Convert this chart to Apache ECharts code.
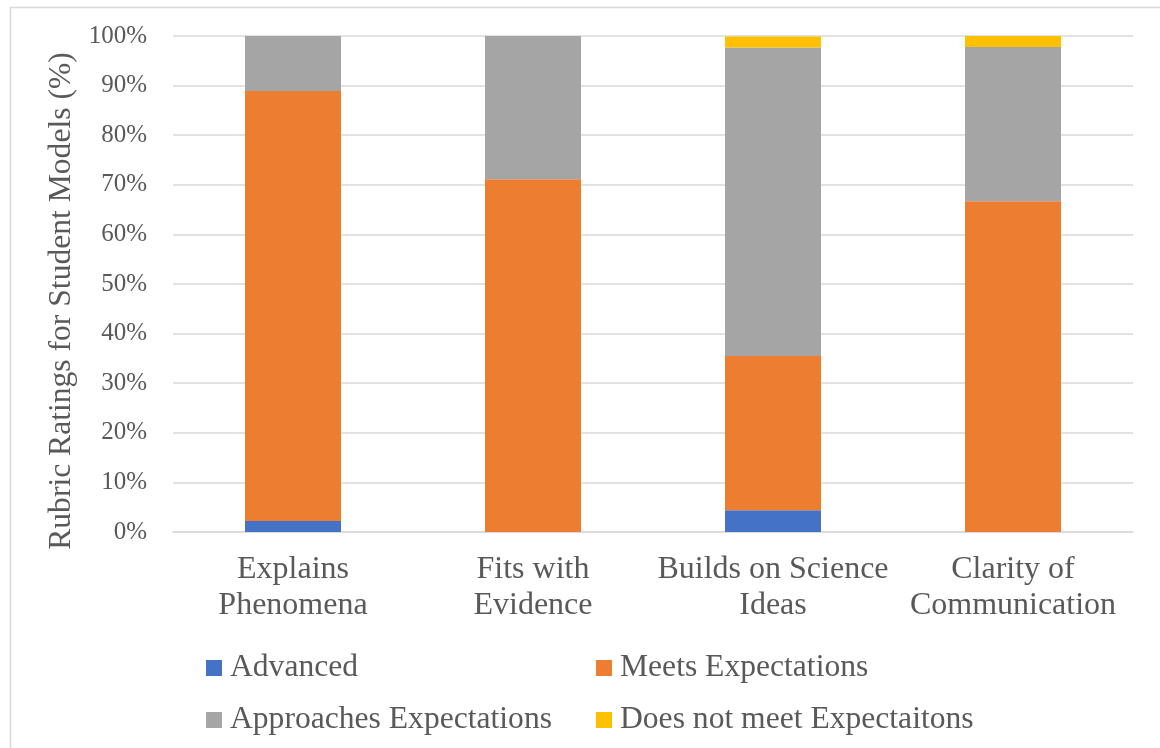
<!DOCTYPE html>
<html>
<head>
<meta charset="utf-8">
<style>
  html, body { margin: 0; padding: 0; background: #ffffff; }
  #chart { width: 1160px; height: 748px; }
</style>
<script src="https://cdn.jsdelivr.net/npm/echarts@6/dist/echarts.min.js"></script>
</head>
<body>
<div id="chart"></div>
<script>
const categories = ['Explains\nPhenomena', 'Fits with\nEvidence', 'Builds on Science\nIdeas', 'Clarity of\nCommunication'];
const seriesNames = ['Advanced', 'Meets Expectations', 'Approaches Expectations', 'Does not meet Expectaitons'];
const advanced = [2.2, 0, 4.4, 0];
const meets = [86.7, 71.1, 31.1, 66.7];
const approaches = [11.1, 28.9, 62.2, 31.1];
const doesNotMeet = [0, 0, 2.2, 2.2];
const colors = ['#4472C4', '#ED7D31', '#A5A5A5', '#FFC000'];
const yTicks = [0, 10, 20, 30, 40, 50, 60, 70, 80, 90, 100];
const yTitle = 'Rubric Ratings for Student Models (%)';

const FONT = '"Liberation Serif", "Times New Roman", serif';
const TEXT = '#595959';
const GRID = '#d9d9d9';

const chart = echarts.init(document.getElementById('chart'), null, { renderer: 'canvas' });

const valueSets = [advanced, meets, approaches, doesNotMeet];
const series = seriesNames.map((name, i) => ({
  name: name,
  type: 'bar',
  stack: 'total',
  barWidth: 96,
  data: valueSets[i],
  itemStyle: { color: colors[i] },
  emphasis: { disabled: true }
}));

const legendCommon = {
  orient: 'vertical',
  top: 652,
  padding: 0,
  itemWidth: 16,
  itemHeight: 16,
  itemGap: 20,
  icon: 'rect',
  selectedMode: false,
  textStyle: { fontFamily: FONT, fontSize: 31.6, color: TEXT, lineHeight: 31, padding: [0, 0, 0, 3] }
};

chart.setOption({
  animation: false,
  color: colors,
  graphic: [{
    type: 'rect',
    shape: { x: 10.5, y: 7.5, width: 1170, height: 780 },
    style: { fill: 'none', stroke: GRID, lineWidth: 1.5 },
    silent: true
  }],
  grid: { left: 173, right: 27, top: 36, bottom: 216, containLabel: false },
  legend: [
    Object.assign({}, legendCommon, { left: 206, data: [seriesNames[0], seriesNames[2]] }),
    Object.assign({}, legendCommon, { left: 596, data: [seriesNames[1], seriesNames[3]] })
  ],
  xAxis: {
    type: 'category',
    data: categories,
    axisLine: { show: true, lineStyle: { color: GRID, width: 1.5 } },
    axisTick: { show: false },
    axisLabel: { fontFamily: FONT, fontSize: 32, color: TEXT, lineHeight: 36, margin: 20, interval: 0 }
  },
  yAxis: {
    type: 'value',
    min: yTicks[0],
    max: yTicks[yTicks.length - 1],
    interval: yTicks[1] - yTicks[0],
    name: yTitle,
    nameLocation: 'middle',
    nameGap: 93,
    nameTextStyle: { fontFamily: FONT, fontSize: 31.6, color: TEXT, padding: [0, 34, 0, 0] },
    axisLine: { show: false },
    axisTick: { show: false },
    splitLine: { show: true, lineStyle: { color: GRID, width: 1.5 } },
    axisLabel: { fontFamily: FONT, fontSize: 25, color: TEXT, margin: 26, formatter: '{value}%' }
  },
  series: series
});
</script>
</body>
</html>
